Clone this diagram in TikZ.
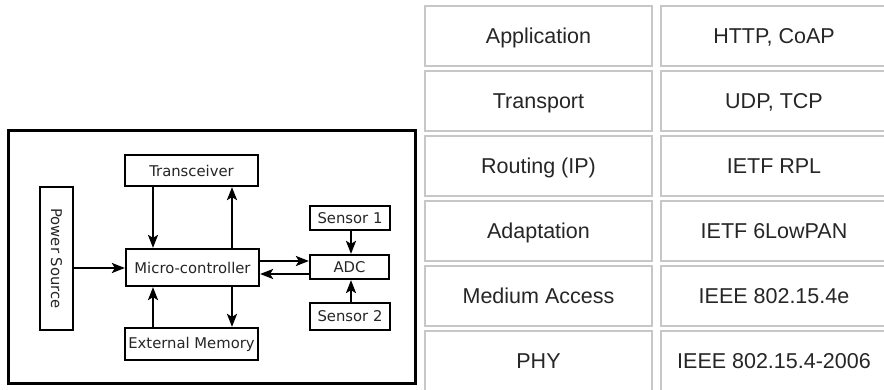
\documentclass[tikz,border=0pt]{standalone}
\usepackage{fontspec}
\setmainfont{Liberation Sans}
\newfontfamily\blockfont{DejaVu Sans}
\usetikzlibrary{arrows.meta}
\begin{document}
\begin{tikzpicture}[x=1pt,y=-1pt,
  cell/.style={draw=black!22,line width=2pt,inner sep=0pt,minimum width=227pt,minimum height=60pt,text height=15.5pt,text depth=0pt,text=black!85,font=\fontsize{21.5}{24}\selectfont},
  blk/.style={draw=black,line width=2.2pt,inner sep=0pt,text=black!85,font=\blockfont\fontsize{14.8}{17}\selectfont},
  arr/.style={line width=2.3pt,-{Stealth[length=13pt,width=10pt,inset=3pt]}}]
\useasboundingbox (0,0) rectangle (884,390);
\fill[white] (0,0) rectangle (884,390);
% protocol stack table
\foreach \i/\a/\b in {0/Application/{HTTP, CoAP},1/Transport/{UDP, TCP},2/Routing (IP)/IETF RPL,3/Adaptation/IETF 6LowPAN,4/Medium Access/IEEE 802.15.4e,5/PHY/IEEE 802.15.4-2006}{
  \node[cell] (l\i) at (538.5,{36+65*\i}) {\a};
  \node[cell,minimum width=226pt] (r\i) at (774,{36+65*\i}) {\b};
}
% node block diagram
\node[draw=black,line width=3pt,minimum width=407pt,minimum height=252pt,inner sep=0pt] (outer) at (211.5,257) {};
\node[blk,minimum width=133pt,minimum height=31pt] (trans) at (191.5,170.5) {Transceiver};
\node[blk,minimum width=133pt,minimum height=37pt] (mc) at (192.5,267.5) {Micro-controller};
\node[blk,minimum width=133pt,minimum height=32pt] (mem) at (191.5,344) {External Memory};
\node[blk,minimum width=33pt,minimum height=143pt] (power) at (56.5,258.5) {};
\node[font=\blockfont\fontsize{14.8}{17}\selectfont,text=black!85,rotate=-90,inner sep=0pt] (powertxt) at (power.center) {Power Source};
\node[blk,minimum width=80pt,minimum height=24pt] (s1) at (350,218) {Sensor 1};
\node[blk,minimum width=79pt,minimum height=24pt] (adc) at (349.5,267) {ADC};
\node[blk,minimum width=80pt,minimum height=27pt] (s2) at (350,316.5) {Sensor 2};
\coordinate (cl) at (153,0);
\coordinate (cr) at (232,0);
\coordinate (cs) at (351,0);
\coordinate (yt) at (0,261);
\coordinate (yb) at (0,274);
\coordinate (yp) at (0,268);
\draw[arr] (trans.south -| cl) -- (mc.north -| cl);
\draw[arr] (mc.north -| cr) -- (trans.south -| cr);
\draw[arr] (mem.north -| cl) -- (mc.south -| cl);
\draw[arr] (mc.south -| cr) -- (mem.north -| cr);
\draw[arr] (power.east |- yp) -- (mc.west |- yp);
\draw[arr] (mc.east |- yt) -- (adc.west |- yt);
\draw[arr] (adc.west |- yb) -- (mc.east |- yb);
\draw[arr] (s1.south -| cs) -- (adc.north -| cs);
\draw[arr] (s2.north -| cs) -- (adc.south -| cs);
\end{tikzpicture}
\end{document}
